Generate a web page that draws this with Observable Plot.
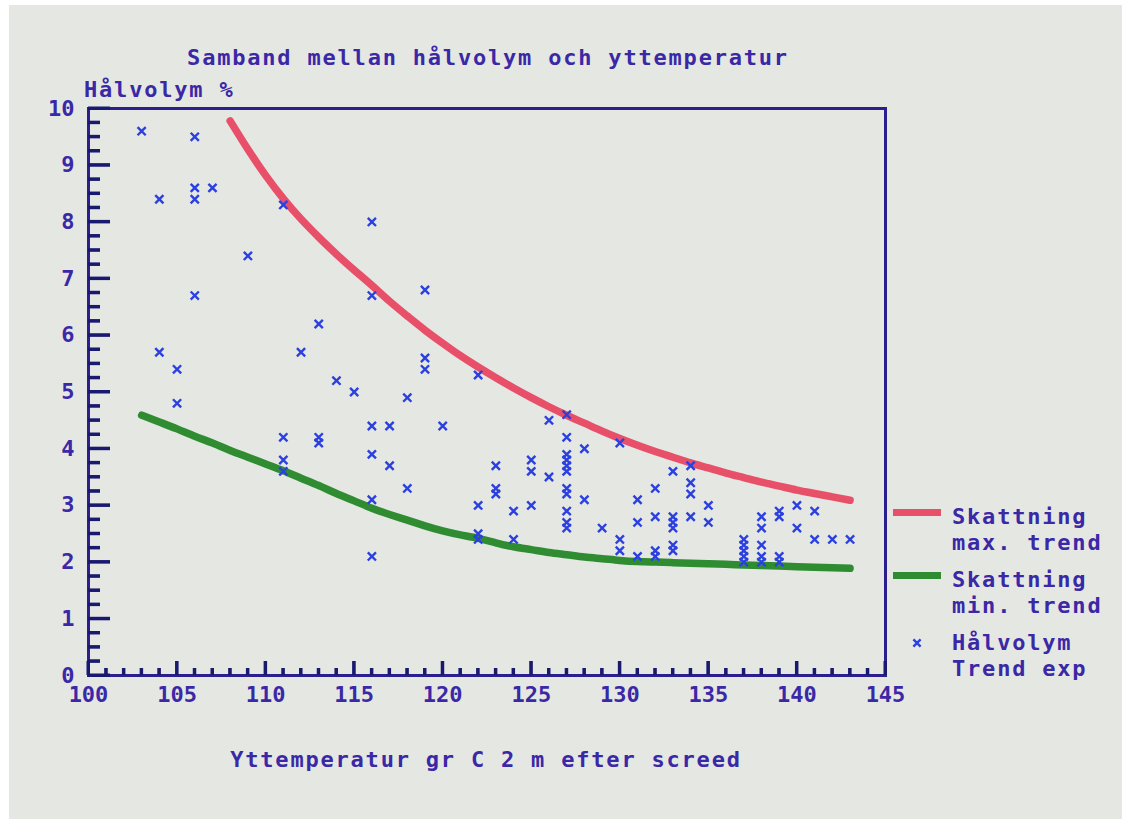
<!DOCTYPE html>
<html>
<head>
<meta charset="utf-8">
<script src="https://cdn.jsdelivr.net/npm/d3@7"></script>
<script src="https://cdn.jsdelivr.net/npm/@observablehq/plot@0.6"></script>
<style>
  html, body { margin: 0; padding: 0; background: #ffffff; }
  #page { position: relative; width: 1130px; height: 829px; overflow: hidden; background: #ffffff; }
  #paper { position: absolute; left: 9px; top: 5px; width: 1113px; height: 814px; background: #e5e7e3; }
  #chart { position: absolute; left: 0; top: 0; }
  .t { position: absolute; font-family: "DejaVu Sans Mono", monospace; font-weight: bold; font-size: 22px;
       line-height: 26px; color: #3a28a6; letter-spacing: 1.8px; white-space: nowrap; }
</style>
</head>
<body>
<div id="page">
  <div id="paper"></div>
  <div id="chart"></div>
  <div class="t" id="title" style="left:0;width:976px;text-align:center;top:45px;">Samband mellan hålvolym och yttemperatur</div>
  <div class="t" id="ylab" style="left:84px;top:77px;">Hålvolym %</div>
  <div class="t" id="xlab" style="left:0;width:972px;text-align:center;top:747px;">Yttemperatur gr C 2 m efter screed</div>
  <div id="legend"></div>
</div>
<script>
// ---- data ----
const tempX = [103,106,106,107,104,106,111,116,109,106,116,113,104,112,105,114,115,105,116,117,
               119,119,119,122,118,120,111,113,113,116,111,111,117,118,116,123,123,123,122,122,122,116,
               127,126,127,128,130,127,127,127,127,125,125,126,127,127,128,124,125,127,127,127,129,
               131,131,132,132,124,130,130,131,132,132,
               133,134,134,134,135,133,133,133,134,135,133,133,
               137,137,137,137,137,138,138,138,138,138,139,139,139,139,140,140,141,141,142,143];
const volY  = [9.6,9.5,8.6,8.6,8.4,8.4,8.3,8.0,7.4,6.7,6.7,6.2,5.7,5.7,5.4,5.2,5.0,4.8,4.4,4.4,
               6.8,5.6,5.4,5.3,4.9,4.4,4.2,4.2,4.1,3.9,3.8,3.6,3.7,3.3,3.1,3.7,3.3,3.2,3.0,2.5,2.4,2.1,
               4.6,4.5,4.2,4.0,4.1,3.9,3.8,3.7,3.6,3.8,3.6,3.5,3.3,3.2,3.1,2.9,3.0,2.9,2.7,2.6,2.6,
               3.1,2.7,3.3,2.8,2.4,2.4,2.2,2.1,2.2,2.1,
               3.6,3.7,3.4,3.2,3.0,2.8,2.7,2.6,2.8,2.7,2.3,2.2,
               2.4,2.3,2.2,2.1,2.0,2.8,2.6,2.3,2.1,2.0,2.9,2.8,2.1,2.0,3.0,2.6,2.9,2.4,2.4,2.4];

const maxTemp = [108,109,110,111,112,113,114,115,116,117,118,119,120,121,122,123,124,125,
                 126,127,128,129,130,131,132,133,134,135,136,137,138,139,140,141,142,143];
const maxVol  = [9.78,9.28,8.82,8.41,8.05,7.73,7.43,7.15,6.88,6.60,6.34,6.09,5.86,5.64,5.44,5.25,5.07,4.90,
                 4.74,4.59,4.45,4.31,4.18,4.06,3.95,3.85,3.75,3.66,3.57,3.49,3.41,3.34,3.27,3.21,3.15,3.09];

const minTemp = [103,104,105,106,107,108,109,110,111,112,113,114,115,116,117,118,119,120,121,122,
                 123,124,125,126,127,128,129,130,131,132,133,134,135,136,137,138,139,140,141,142,143];
const minVol  = [4.59,4.47,4.35,4.22,4.10,3.97,3.85,3.73,3.61,3.48,3.35,3.21,3.08,2.95,2.84,2.74,2.64,2.55,2.48,2.42,
                 2.34,2.27,2.22,2.17,2.13,2.09,2.06,2.03,2.01,2.00,1.99,1.98,1.97,1.96,1.95,1.94,1.93,1.92,1.91,1.90,1.89];

const xTickLabels = [100,105,110,115,120,125,130,135,140,145];
const yTickLabels = [0,1,2,3,4,5,6,7,8,9,10];
const xMinorTicks = [101,102,103,104,106,107,108,109,111,112,113,114,116,117,118,119,121,122,123,124,
                     126,127,128,129,131,132,133,134,136,137,138,139,141,142,143,144];
const yMinorTicks = [0.25,0.5,0.75,1.25,1.5,1.75,2.25,2.5,2.75,3.25,3.5,3.75,4.25,4.5,4.75,5.25,5.5,5.75,
                     6.25,6.5,6.75,7.25,7.5,7.75,8.25,8.5,8.75,9.25,9.5,9.75];

const legendItems = [
  {label: ["Skattning", "max. trend"], kind: "max"},
  {label: ["Skattning", "min. trend"], kind: "min"},
  {label: ["Hålvolym", "Trend exp"], kind: "obs"}
];

// ---- styles ----
const frameColor = "#2b1e8e";
const tickColor = "midnightblue";
const textColor = "#3a28a6";
const redColor = "#e8506a";
const greenColor = "#2f8c31";
const blueColor = "#2b40df";

const W = 1130, H = 829, mL = 88, mR = 245, mT = 108, mB = 154;

const points = tempX.map((x, i) => ({x, y: volY[i]}));
const maxLine = maxTemp.map((x, i) => ({x, y: maxVol[i]}));
const minLine = minTemp.map((x, i) => ({x, y: minVol[i]}));
const blank = () => "";

const chart = Plot.plot({
  width: W, height: H,
  marginLeft: mL, marginRight: mR, marginTop: mT, marginBottom: mB,
  x: {domain: [100, 145]},
  y: {domain: [0, 10]},
  style: {background: "transparent", color: textColor},
  marks: [
    Plot.line(maxLine, {x: "x", y: "y", stroke: redColor, strokeWidth: 7.5, curve: "natural"}),
    Plot.line(minLine, {x: "x", y: "y", stroke: greenColor, strokeWidth: 7.5, curve: "natural"}),
    Plot.dot(points, {x: "x", y: "y", symbol: "times", r: 3.8, stroke: blueColor, strokeWidth: 2.4}),
    Plot.frame({stroke: frameColor, strokeWidth: 3}),
    // inward tick marks (negative tick size)
    Plot.axisX({ticks: xMinorTicks, tickSize: -7, tickFormat: blank, stroke: tickColor, strokeWidth: 3, label: null}),
    Plot.axisX({ticks: xTickLabels, tickSize: -14, tickFormat: blank, stroke: tickColor, strokeWidth: 3, label: null}),
    Plot.axisY({ticks: yMinorTicks, tickSize: -12, tickFormat: blank, stroke: tickColor, strokeWidth: 3, label: null}),
    Plot.axisY({ticks: yTickLabels, tickSize: -22, tickFormat: blank, stroke: tickColor, strokeWidth: 3, label: null}),
    // tick labels
    Plot.axisX(xTickLabels, {tickSize: 0, tickPadding: 11, fontSize: 22, fontWeight: "bold", fontFamily: "DejaVu Sans Mono",
                             fill: textColor, label: null, tickFormat: d => String(d)}),
    Plot.axisY(yTickLabels, {tickSize: 0, tickPadding: 14, fontSize: 22, fontWeight: "bold", fontFamily: "DejaVu Sans Mono",
                             fill: textColor, label: null, tickFormat: d => String(d)})
  ]
});
document.getElementById("chart").appendChild(chart);

// second pass of the inward ticks, placed through the chart's own scales
const xs = chart.scale("x"), ys = chart.scale("y");
const g = d3.select(chart).append("g").attr("stroke", tickColor).attr("stroke-width", 3);
[...xMinorTicks.map(t => [t, 7]), ...xTickLabels.map(t => [t, 14])].forEach(([t, len]) => {
  g.append("line").attr("x1", xs.apply(t)).attr("x2", xs.apply(t))
    .attr("y1", ys.apply(0)).attr("y2", ys.apply(0) - len);
});
[...yMinorTicks.map(t => [t, 12]), ...yTickLabels.map(t => [t, 22])].forEach(([t, len]) => {
  g.append("line").attr("y1", ys.apply(t)).attr("y2", ys.apply(t))
    .attr("x1", xs.apply(100)).attr("x2", xs.apply(100) + len);
});

// ---- legend ----
const legend = document.getElementById("legend");
const legendTops = [504, 567, 630];
legendItems.forEach((item, i) => {
  const top = legendTops[i];
  const sw = document.createElement("div");
  sw.style.position = "absolute";
  if (item.kind === "obs") {
    sw.innerHTML = `<svg width="14" height="14" viewBox="-7 -7 14 14"><path d="M-3.6,-3.6L3.6,3.6M-3.6,3.6L3.6,-3.6" stroke="${blueColor}" stroke-width="2.4"/></svg>`;
    sw.style.left = "910px";
    sw.style.top = (top + 6) + "px";
  } else {
    sw.style.left = "893px";
    sw.style.top = (top + 5) + "px";
    sw.style.width = "48px";
    sw.style.height = "7px";
    sw.style.background = item.kind === "max" ? redColor : greenColor;
  }
  legend.appendChild(sw);
  const tx = document.createElement("div");
  tx.className = "t";
  tx.style.left = "952px";
  tx.style.top = top + "px";
  tx.innerHTML = item.label.join("<br>");
  legend.appendChild(tx);
});
</script>
</body>
</html>
